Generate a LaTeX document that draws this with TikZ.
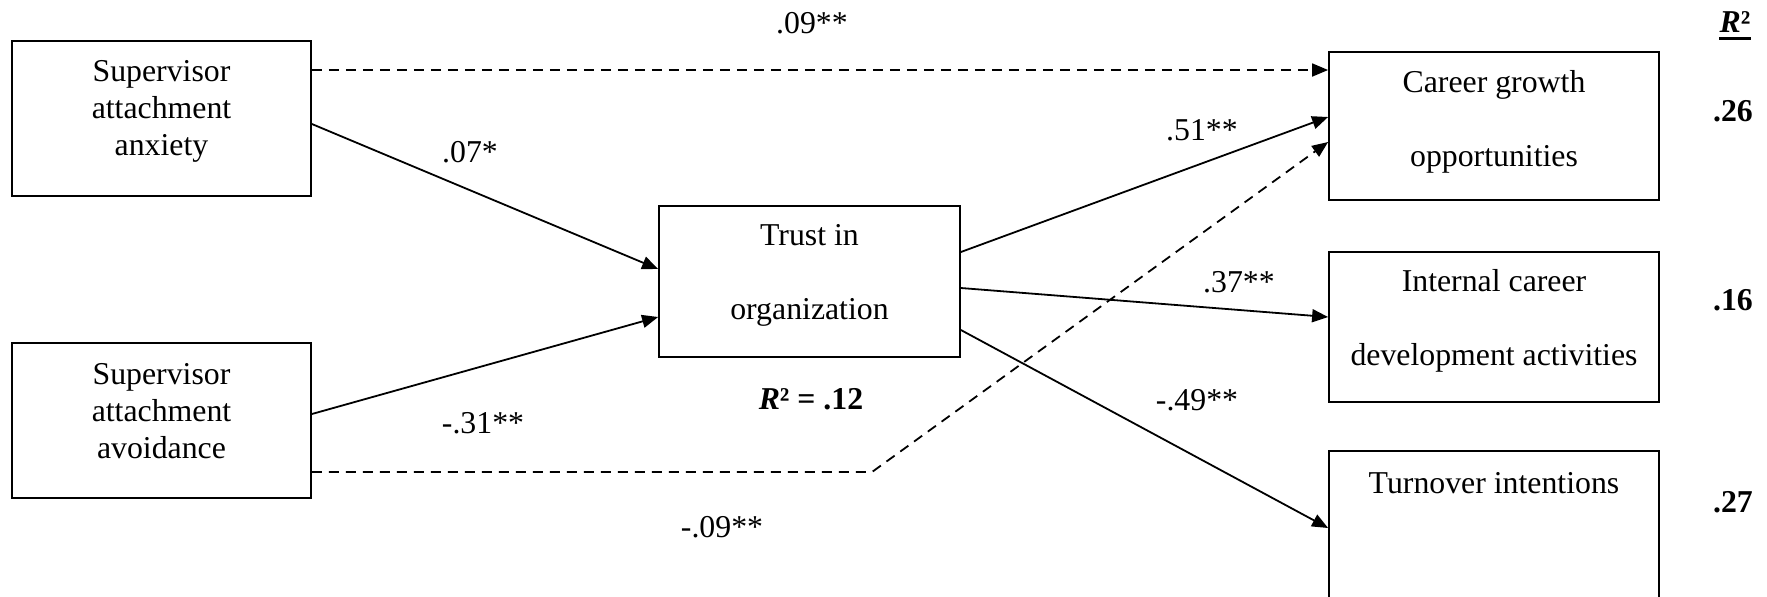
\documentclass[tikz,border=0pt]{standalone}
\usepackage{fontspec}
\setmainfont{Liberation Serif}
\usetikzlibrary{arrows.meta}
\begin{document}
\begin{tikzpicture}[x=0.5pt,y=-0.5pt,
  box/.style={draw, line width=0.9pt, rectangle, inner sep=0pt},
  txt/.style={align=center, inner sep=0pt, font=\fontsize{15.9pt}{18.5pt}\selectfont},
  dtxt/.style={align=center, inner sep=0pt, font=\fontsize{15.9pt}{37pt}\selectfont},
  lbl/.style={anchor=base, inner sep=0pt, font=\fontsize{15.9pt}{18.5pt}\selectfont},
  arr/.style={line width=0.9pt, -{Triangle[length=8pt,width=6.5pt]}},
  darr/.style={arr, dash pattern=on 5pt off 3.5pt}
]
\useasboundingbox (0,0) rectangle (1767,596);
% boxes
\node[box, minimum width=149.5pt, minimum height=77.5pt] (A) at (161.5,118.5) {};
\node[box, minimum width=149.5pt, minimum height=77.5pt] (B) at (161.5,420.5) {};
\node[box, minimum width=150.5pt, minimum height=75.5pt] (T) at (809.5,281.5) {};
\node[box, minimum width=165pt, minimum height=74pt] (C) at (1494,126) {};
\node[box, minimum width=165pt, minimum height=75pt] (I) at (1494,327) {};
\node[box, minimum width=165pt, minimum height=94.5pt] (U) at (1494,545.5) {};
% box texts
\node[txt] (At) at (161.5,111.7) {Supervisor\\attachment\\anxiety};
\node[txt] (Bt) at (161.5,410.7) {Supervisor\\attachment\\avoidance};
\node[dtxt] (Tt) at (809.5,275.7) {Trust in\\organization};
\node[dtxt] (Ct) at (1494,121.4) {Career growth\\opportunities};
\node[dtxt] (It) at (1494,321) {Internal career\\development activities};
\node[lbl] (Ut) at (1494,493) {Turnover intentions};
% connectors
\coordinate (bend) at (872,472);
\draw[darr] (A.east |- 0,70) -- (C.west |- 0,70);
\draw[arr] (A.east |- 0,124) -- (T.west |- 0,269);
\draw[arr] (B.east |- 0,414) -- (T.west |- 0,317);
\draw[darr] (B.east |- 0,472) -- (bend) -- (C.west |- 0,142);
\draw[arr] (T.east |- 0,252) -- (C.west |- 0,117);
\draw[arr] (T.east |- 0,288) -- (I.west |- 0,317);
\draw[arr] (T.east |- 0,330) -- (U.west |- 0,528);
% labels
\node[lbl] (l1) at (812,33) {.09**};
\node[lbl] (l2) at (470,162) {.07*};
\node[lbl] (l3) at (1202,140) {.51**};
\node[lbl] (l4) at (1239,292) {.37**};
\node[lbl] (l5) at (1197,410) {-.49**};
\node[lbl] (l6) at (483,433) {-.31**};
\node[lbl] (l7) at (722,537) {-.09**};
\node[lbl] (r12) at (811,409) {\textbf{\textit{R}² = .12}};
\node[lbl] (rh) at (1735,32) {\textbf{\textit{R}²}};
\draw[line width=1.5pt] ([yshift=-3.2pt]rh.base west) -- ([yshift=-3.2pt]rh.base east);
\node[lbl] (r26) at (1733,121) {\textbf{.26}};
\node[lbl] (r16) at (1733,310) {\textbf{.16}};
\node[lbl] (r27) at (1733,512) {\textbf{.27}};
\end{tikzpicture}
\end{document}
